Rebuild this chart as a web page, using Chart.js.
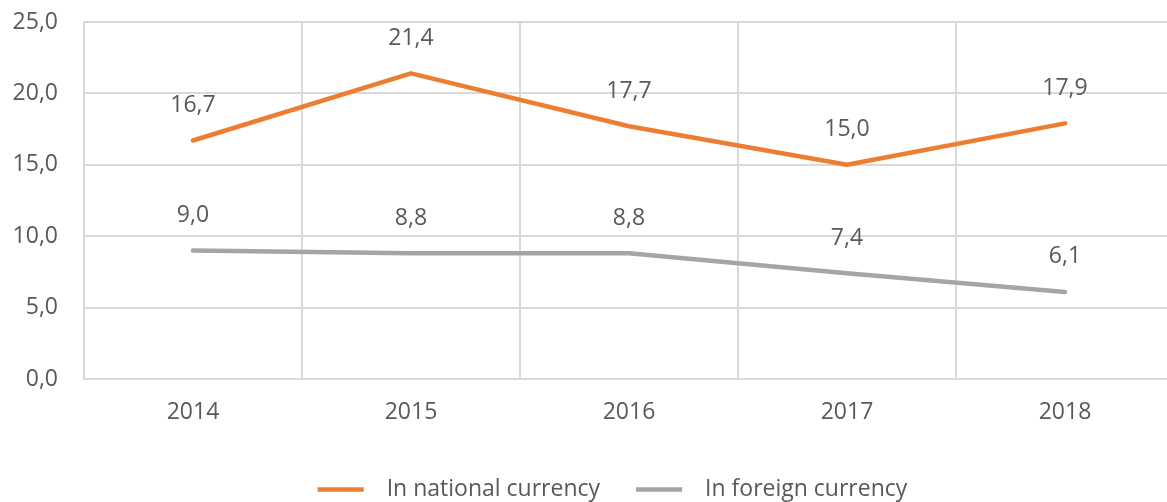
<!DOCTYPE html>
<html>
<head>
<meta charset="utf-8">
<script src="https://cdn.jsdelivr.net/npm/chart.js@4/dist/chart.umd.min.js"></script>
<style>
  html, body { margin: 0; padding: 0; background: #fff; overflow: hidden; }
  /* the original is cropped a few px inside its plot area on the right */
  #wrap { width: 1175px; height: 502px; }
</style>
</head>
<body>
<div id="wrap"><canvas id="chart"></canvas></div>
<script>
const years = ['2014', '2015', '2016', '2017', '2018'];
const nationalCurrency = [16.7, 21.4, 17.7, 15.0, 17.9];
const foreignCurrency = [9.0, 8.8, 8.8, 7.4, 6.1];
const yTicks = [0, 5, 10, 15, 20, 25];

const FONT = "'Open Sans', 'Noto Sans', sans-serif";
const TEXT = '#595959';
const GRID = '#d9d9d9';

const fmt = v => v.toFixed(1).replace('.', ',');

// value labels above each point
const pointLabels = {
  id: 'pointLabels',
  afterDatasetsDraw(chart) {
    const ctx = chart.ctx;
    ctx.save();
    ctx.font = '23px ' + FONT;
    ctx.fillStyle = TEXT;
    ctx.textAlign = 'center';
    ctx.textBaseline = 'middle';
    chart.data.datasets.forEach((ds, i) => {
      chart.getDatasetMeta(i).data.forEach((pt, j) => {
        ctx.fillText(fmt(ds.data[j]), pt.x, pt.y - 35);
      });
    });
    ctx.restore();
  }
};

// the legend in the original sits a bit right of the canvas centre
const legendShift = {
  id: 'legendShift',
  afterLayout(chart) {
    if (chart.legend) {
      chart.legend.left = 58;
      chart.legend.right = 1167;
    }
  }
};

new Chart(document.getElementById('chart'), {
  type: 'line',
  data: {
    labels: years,
    datasets: [
      {
        label: 'In national currency',
        data: nationalCurrency,
        borderColor: '#ed7d31',
        backgroundColor: '#ed7d31',
        borderWidth: 4.5,
        borderCapStyle: 'round',
        borderJoinStyle: 'round',
        pointRadius: 0,
        tension: 0
      },
      {
        label: 'In foreign currency',
        data: foreignCurrency,
        borderColor: '#a5a5a5',
        backgroundColor: '#a5a5a5',
        borderWidth: 4.5,
        borderCapStyle: 'round',
        borderJoinStyle: 'round',
        pointRadius: 0,
        tension: 0
      }
    ]
  },
  options: {
    responsive: true,
    maintainAspectRatio: false,
    animation: false,
    layout: { padding: { top: 22, right: 1, left: 0, bottom: -9 } },
    plugins: {
      tooltip: { enabled: false },
      legend: {
        position: 'bottom',
        labels: {
          usePointStyle: true,
          pointStyle: 'line',
          pointStyleWidth: 46,
          color: TEXT,
          font: { family: FONT, size: 23 },
          padding: 36,
          generateLabels(chart) {
            const items = Chart.defaults.plugins.legend.labels.generateLabels(chart);
            items.forEach(it => { it.text = '\u2002' + it.text; });
            return items;
          }
        }
      }
    },
    scales: {
      x: {
        offset: true,
        grid: { color: GRID, lineWidth: 2, offset: true, drawTicks: false },
        border: { color: GRID, width: 2 },
        ticks: { color: TEXT, font: { family: FONT, size: 23 }, padding: 20 },
        afterFit(scale) { scale.height = 63; }
      },
      y: {
        min: 0,
        max: 25,
        afterBuildTicks(scale) { scale.ticks = yTicks.map(v => ({ value: v })); },
        grid: { color: GRID, lineWidth: 2, drawTicks: false },
        border: { display: false },
        ticks: {
          color: TEXT,
          font: { family: FONT, size: 23 },
          padding: 26,
          callback: v => fmt(v)
        },
        afterFit(scale) {
          scale.width = 84;
          scale.paddingTop = 0;
          scale.paddingBottom = 0;
        }
      }
    }
  },
  plugins: [pointLabels, legendShift]
});
</script>
</body>
</html>
